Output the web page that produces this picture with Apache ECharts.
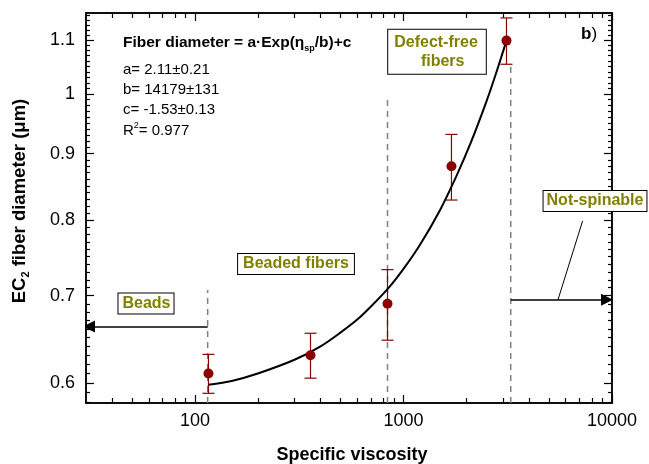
<!DOCTYPE html>
<html>
<head>
<meta charset="utf-8">
<script src="https://cdn.jsdelivr.net/npm/echarts@6/dist/echarts.min.js"></script>
<style>
	html, body { margin: 0; padding: 0; background: #fff; }
	#main { width: 649px; height: 464px; }
</style>
</head>
<body>
<div id="main"></div>
<script>
	// measured points with error bars
	var viscosity = [116, 358, 838, 1698, 3118];
	var diameter = [0.610, 0.630, 0.690, 0.880, 1.099];
	var diameterErr = [0.021, 0.025, 0.043, 0.051, 0.045];

	// fitted curve
	var fitViscosity = [116, 150, 200, 300, 400, 500, 600, 700, 850, 1000, 1200, 1500, 1800, 2100, 2500, 2800, 3118];
	var fitDiameter = [0.598, 0.602, 0.610, 0.625, 0.640, 0.656, 0.671, 0.687, 0.710, 0.734, 0.766, 0.815, 0.866, 0.917, 0.987, 1.041, 1.099];

	// region boundaries (dashed lines): x and the top of each line
	var boundViscosity = [115, 838, 3268];
	var boundTop = [0.707, 0.991, 1.056];

	// arrows and leader line
	var beadsArrow = [[115, 0.663], [31, 0.663]];
	var spinArrow = [[3268, 0.695], [9460, 0.695]];
	var leaderLine = [[7228, 0.799], [5508, 0.695]];

	var xTickLabels = [100, 1000, 10000];
	var yTickLabels = [0.6, 0.7, 0.8, 0.9, 1, 1.1];
	var xRange = [30, 10000];
	var yRange = [0.579, 1.154];

	var L = Math.log10;

	var xMinor = [];
	[10, 100, 1000].forEach(function(d) {
		for(var k = 2; k <= 9; k++) {
			if(k * d > xRange[0] && k * d < xRange[1]) xMinor.push(L(k * d));
		}
	});
	var yMinor = [];
	for(var i = 58; i <= 115; i++) {
		if(i % 10 != 0) yMinor.push(L(i / 100));
	}

	var FONT = 'Liberation Sans, Arial, sans-serif';
	var black = { color: '#000', width: 1.5 };

	function xAx(pos, ticks, len, label) {
		return {
			type: 'value', position: pos, min: L(xRange[0]), max: L(xRange[1]),
			axisLine: { show: true, onZero: false, lineStyle: black },
			axisTick: { show: true, inside: true, length: len, customValues: ticks, lineStyle: { color: '#000', width: 1.2 } },
			axisLabel: label ? {
				customValues: xTickLabels.map(L), fontSize: 18, color: '#000', margin: 9, fontFamily: FONT,
				formatter: function(v) { return String(Math.round(Math.pow(10, v))); }
			} : { show: false },
			splitLine: { show: false }
		};
	}

	function yAx(pos, ticks, len, label) {
		return {
			type: 'value', position: pos, min: L(yRange[0]), max: L(yRange[1]),
			axisLine: { show: true, onZero: false, lineStyle: black },
			axisTick: { show: true, inside: true, length: len, customValues: ticks, lineStyle: { color: '#000', width: 1.2 } },
			axisLabel: label ? {
				customValues: yTickLabels.map(L), fontSize: 18, color: '#000', margin: 11, fontFamily: FONT,
				formatter: function(v) { return String(parseFloat(Math.pow(10, v).toFixed(2))); }
			} : { show: false },
			splitLine: { show: false }
		};
	}

	var chart = echarts.init(document.getElementById('main'));

	var pointData = viscosity.map(function(v, i) { return [L(v), L(diameter[i])]; });
	var errData = viscosity.map(function(v, i) {
		return [L(v), L(diameter[i] - diameterErr[i]), L(diameter[i] + diameterErr[i])];
	});
	var fitData = fitViscosity.map(function(v, i) { return [L(v), L(fitDiameter[i])]; });
	var toLog = function(p) { return [L(p[0]), L(p[1])]; };

	var series = [];

	// dashed region lines
	boundViscosity.forEach(function(v, i) {
		series.push({
			type: 'line', silent: true, symbol: 'none', z: 1,
			data: [[L(v), L(yRange[0])], [L(v), L(boundTop[i])]],
			lineStyle: { color: '#808080', width: 1.5, type: [6, 5] }
		});
	});

	// error bars
	series.push({
		type: 'custom', z: 3,
		data: errData,
		encode: { x: 0, y: [1, 2] },
		renderItem: function(params, api) {
			var x = api.value(0);
			var lo = api.coord([x, api.value(1)]);
			var hi = api.coord([x, api.value(2)]);
			var st = { stroke: '#8b0000', lineWidth: 1.2 };
			return {
				type: 'group',
				children: [
					{ type: 'line', shape: { x1: lo[0], y1: lo[1], x2: hi[0], y2: hi[1] }, style: st },
					{ type: 'line', shape: { x1: lo[0] - 6, y1: lo[1], x2: lo[0] + 6, y2: lo[1] }, style: st },
					{ type: 'line', shape: { x1: hi[0] - 6, y1: hi[1], x2: hi[0] + 6, y2: hi[1] }, style: st }
				]
			};
		}
	});

	// fit curve
	series.push({
		type: 'line', smooth: 0.3, symbol: 'none', z: 4,
		data: fitData,
		lineStyle: { color: '#000', width: 2 }
	});

	// points
	series.push({
		type: 'scatter', z: 5, symbolSize: 10,
		data: pointData,
		itemStyle: { color: '#8b0000', opacity: 1 }
	});

	// arrows
	series.push({
		type: 'lines', coordinateSystem: 'cartesian2d', z: 6,
		symbol: ['none', 'triangle'], symbolSize: 12,
		lineStyle: { color: '#000', width: 1.5, opacity: 1 },
		data: [{ coords: beadsArrow.map(toLog) }, { coords: spinArrow.map(toLog) }]
	});
	series.push({
		type: 'lines', coordinateSystem: 'cartesian2d', z: 6,
		symbol: ['none', 'none'],
		lineStyle: { color: '#000', width: 1, opacity: 1 },
		data: [{ coords: leaderLine.map(toLog) }]
	});

	var boxStyle = {
		fontFamily: FONT, fontSize: 16, fontWeight: 'bold', fill: '#808000',
		backgroundColor: '#fff', borderColor: '#000', borderWidth: 1
	};
	function box(text, x, y, pad, extra) {
		var st = Object.assign({}, boxStyle, { text: text, padding: pad, align: 'center', verticalAlign: 'middle' }, extra || {});
		return { type: 'text', x: x, y: y, z: 100, style: st };
	}

	var option = {
		animation: false,
		backgroundColor: '#fff',
		grid: { left: 86, right: 37, top: 13, bottom: 61, containLabel: false },
		xAxis: [
			xAx('bottom', xTickLabels.map(L), 8, true),
			xAx('bottom', xMinor, 5, false),
			xAx('top', xTickLabels.map(L), 8, false),
			xAx('top', xMinor, 5, false)
		],
		yAxis: [
			yAx('left', yTickLabels.map(L), 8, true),
			yAx('left', yMinor, 4, false),
			yAx('right', yTickLabels.map(L), 8, false),
			yAx('right', yMinor, 4, false)
		],
		series: series,
		graphic: [
			{
				type: 'text', x: 123, y: 43, z: 100,
				style: {
					text: '{b|Fiber diameter = a·Exp(η}{s|sp}{b|/b)+c}',
					verticalAlign: 'middle',
					rich: {
						b: { fontFamily: FONT, fontSize: 15.5, fontWeight: 'bold', fill: '#000', lineHeight: 20 },
						s: { fontFamily: FONT, fontSize: 9, fontWeight: 'bold', fill: '#000', lineHeight: 12, verticalAlign: 'bottom' }
					}
				}
			},
			{ type: 'text', x: 123, y: 70, style: { text: 'a= 2.11±0.21', fontFamily: FONT, fontSize: 15, fill: '#000', verticalAlign: 'middle' } },
			{ type: 'text', x: 123, y: 90, style: { text: 'b= 14179±131', fontFamily: FONT, fontSize: 15, fill: '#000', verticalAlign: 'middle' } },
			{ type: 'text', x: 123, y: 110, style: { text: 'c= -1.53±0.13', fontFamily: FONT, fontSize: 15, fill: '#000', verticalAlign: 'middle' } },
			{
				type: 'text', x: 123, y: 131,
				style: {
					text: '{n|R}{p|2}{n|= 0.977}', verticalAlign: 'middle',
					rich: {
						n: { fontFamily: FONT, fontSize: 15, fill: '#000', lineHeight: 20 },
						p: { fontFamily: FONT, fontSize: 9, fill: '#000', lineHeight: 12, verticalAlign: 'top' }
					}
				}
			},
			{
				type: 'text', x: 581, y: 34,
				style: {
					text: '{b|b}{n|)}', verticalAlign: 'middle',
					rich: {
						b: { fontFamily: FONT, fontSize: 17, fontWeight: 'bold', fill: '#000' },
						n: { fontFamily: FONT, fontSize: 17, fill: '#000' }
					}
				}
			},
			box('Beads', 146, 303.5, [2, 3, 2, 4]),
			box('Beaded fibers', 296, 264, [2, 5, 2, 5]),
			box('Defect-free\n   fibers', 437, 51.7, [3, 8, 3, 6], { align: 'center', lineHeight: 19 }),
			box('Not-spinable', 595, 201, [2, 3, 2, 3]),
			{
				type: 'text', x: 20, y: 201, rotation: Math.PI / 2,
				style: {
					text: '{b|EC}{s|2}{b| fiber diameter (μm)}', align: 'center', verticalAlign: 'middle',
					rich: {
						b: { fontFamily: FONT, fontSize: 18.5, fontWeight: 'bold', fill: '#000', lineHeight: 22 },
						s: { fontFamily: FONT, fontSize: 11, fontWeight: 'bold', fill: '#000', lineHeight: 14, verticalAlign: 'bottom' }
					}
				}
			},
			{
				type: 'text', x: 352, y: 455,
				style: { text: 'Specific viscosity', fontFamily: FONT, fontSize: 18, fontWeight: 'bold', fill: '#000', align: 'center', verticalAlign: 'middle' }
			}
		]
	};

	chart.setOption(option);
</script>
</body>
</html>
